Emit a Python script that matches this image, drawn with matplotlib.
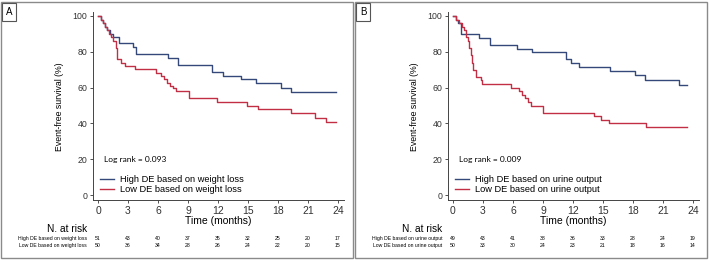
import matplotlib
matplotlib.use('Agg')
import matplotlib.pyplot as plt
from matplotlib.patches import Rectangle
from matplotlib.lines import Line2D
import matplotlib.transforms as mtrans

plt.rcParams['font.family'] = ['Liberation Sans', 'DejaVu Sans']

# step curves (time in months, survival %)
a_high_t = [0, 0.3, 0.5, 0.7, 0.9, 1.2, 1.5, 2.1, 3.5, 3.8, 7.0, 8.0, 11.4, 12.5, 14.3, 15.8, 18.3, 19.3, 23.8]
a_high_v = [100, 98, 96, 94, 92, 90.2, 88.2, 84.7, 82.5, 78.8, 76.4, 72.4, 68.8, 66.6, 64.6, 62.4, 60, 57.5, 57.5]
a_low_t = [0, 0.3, 0.5, 0.7, 0.9, 1.1, 1.3, 1.5, 1.75, 1.9, 2.3, 2.7, 3.7, 5.8, 6.3, 6.6, 6.9, 7.2, 7.5, 7.8, 9.1, 11.9, 14.9, 16.0, 19.3, 21.7, 22.8, 23.8]
a_low_v = [100, 98, 96, 94, 92, 90, 88, 86, 82, 75.8, 74, 72, 70.2, 68.3, 66.4, 64.6, 62.7, 60.9, 59.5, 58.2, 54, 52, 50, 48, 45.6, 43.2, 41, 41]

b_high_t = [0, 0.3, 0.5, 0.8, 2.6, 3.7, 6.4, 7.9, 11.3, 11.8, 12.6, 15.7, 18.2, 19.2, 22.6, 23.4]
b_high_v = [100, 98, 96, 89.8, 87.6, 83.8, 81.6, 79.7, 75.8, 73.6, 71.6, 69.3, 66.8, 64.2, 61.4, 61.4]
b_low_t = [0, 0.3, 0.6, 0.9, 1.1, 1.3, 1.45, 1.6, 1.75, 1.85, 1.95, 2.3, 2.8, 2.9, 5.8, 6.6, 6.9, 7.2, 7.5, 7.8, 8.1, 9.0, 14.1, 14.8, 15.6, 19.3, 23.4]
b_low_v = [100, 98, 96, 94, 92, 88, 86, 82, 78, 74, 70, 66, 64, 62.2, 60, 58, 56, 54, 52, 50, 49.7, 46, 44, 42.1, 40.2, 38, 38]

times = [0, 3, 6, 9, 12, 15, 18, 21, 24]
a_risk_high = [51, 43, 40, 37, 35, 32, 25, 20, 17]
a_risk_low = [50, 36, 34, 28, 26, 24, 22, 20, 15]
b_risk_high = [49, 43, 41, 38, 36, 33, 28, 24, 19]
b_risk_low = [50, 33, 30, 24, 23, 21, 18, 16, 14]

panels = [
    ('A', 'weight loss', '0.093', a_high_t, a_high_v, a_low_t, a_low_v, a_risk_high, a_risk_low, 93, 1),
    ('B', 'urine output', '0.009', b_high_t, b_high_v, b_low_t, b_low_v, b_risk_high, b_risk_low, 448, 355),
]

BLUE = '#34497a'
RED = '#c22f45'
W, H = 709, 260

fig = plt.figure(figsize=(7.09, 2.6), dpi=100)

for (lab, what, p, ht, hv, lt, lv, rh, rl, axleft, boxleft) in panels:
    # outer panel frame
    fig.patches.append(Rectangle((boxleft / W, 2 / H), 352 / W, 256 / H, transform=fig.transFigure,
                                 fill=False, edgecolor='#8a8a8a', linewidth=1.0))
    fig.patches.append(Rectangle(((boxleft + 1) / W, 239 / H), 14 / W, 18 / H, transform=fig.transFigure,
                                 fill=False, edgecolor='#555555', linewidth=0.8))
    fig.text((boxleft + 8) / W, 248 / H, lab, fontsize=7, ha='center', va='center')

    ax = fig.add_axes([axleft / W, (260 - 200.4) / H, 251 / W, 188 / H])
    ax.plot(ht, hv, drawstyle='steps-post', color=BLUE, lw=1.0)
    ax.plot(lt, lv, drawstyle='steps-post', color=RED, lw=1.0)
    ax.set_xlim(-0.5, 24.6)
    ax.set_ylim(-3, 102)
    ax.set_xticks(times)
    ax.set_yticks([0, 20, 40, 60, 80, 100])
    for s in ['top', 'right']:
        ax.spines[s].set_visible(False)
    for s in ['left', 'bottom']:
        ax.spines[s].set_linewidth(0.7)
        ax.spines[s].set_color('#444444')
    ax.tick_params(axis='x', labelsize=7.5, length=2.5, width=0.6, pad=1.5, colors='#333333')
    ax.tick_params(axis='y', labelsize=6.3, length=2.5, width=0.6, pad=1.5, colors='#333333')
    ax.set_xlabel('Time (months)', fontsize=7.5, labelpad=0)
    ax.set_ylabel('Event-free survival (%)', fontsize=6.3, labelpad=6)

    ax.text(0.6, 20, 'Log rank = ' + p, fontsize=6, family=['Lato', 'DejaVu Sans'], va='center')
    hnd = [Line2D([], [], color=BLUE, lw=1.0), Line2D([], [], color=RED, lw=1.0)]
    ax.legend(hnd, ['High DE based on ' + what, 'Low DE based on ' + what], loc='lower left',
              bbox_to_anchor=(0.0, 0.0), frameon=False, fontsize=6.7, handlelength=1.6,
              handletextpad=0.6, labelspacing=0.05, borderaxespad=0.3)

    tr = mtrans.blended_transform_factory(ax.transData, fig.transFigure)
    ax.text(-1.1, (260 - 229) / H, 'N. at risk', transform=tr, ha='right', va='center', fontsize=7.3)
    ax.text(-1.1, (260 - 238.5) / H, 'High DE based on ' + what, transform=tr, ha='right', va='center', fontsize=3.7)
    ax.text(-1.1, (260 - 245.5) / H, 'Low DE based on ' + what, transform=tr, ha='right', va='center', fontsize=3.7)
    for t, a, b in zip(times, rh, rl):
        ax.text(t, (260 - 238.5) / H, str(a), transform=tr, ha='center', va='center', fontsize=3.7)
        ax.text(t, (260 - 245.5) / H, str(b), transform=tr, ha='center', va='center', fontsize=3.7)

fig.savefig('out.png', dpi=100)
